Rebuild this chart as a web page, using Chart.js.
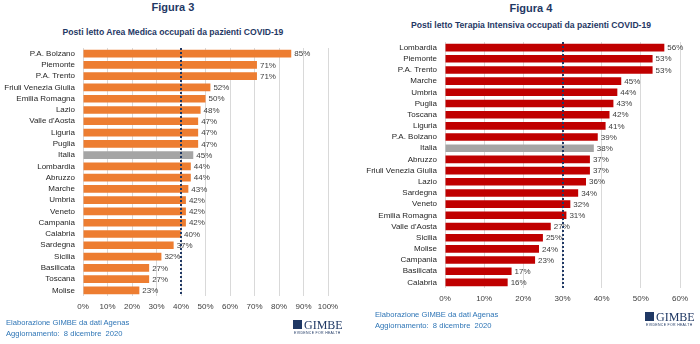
<!DOCTYPE html>
<html>
<head>
<meta charset="utf-8">
<script src="https://cdn.jsdelivr.net/npm/chart.js@4.4.0/dist/chart.umd.min.js"></script>
<style>
  body { margin: 0; background: #fff; font-family: "Liberation Sans", Arial, sans-serif; }
  #wrap { position: relative; width: 700px; height: 344px; overflow: hidden; }
  canvas { position: absolute; top: 0; }
  .fig { position: absolute; font-weight: bold; color: #1F3864; font-size: 11px; text-align: center; }
  .sub { position: absolute; font-weight: bold; color: #1F3864; font-size: 8.6px; text-align: center; white-space: nowrap; }
  .foot { position: absolute; color: #2E75B6; font-size: 7.6px; line-height: 11px; white-space: nowrap; }
  .logo { position: absolute; color: #1F3864; font-family: "Liberation Serif", serif; font-size: 12px; line-height: 12px; white-space: nowrap; }
  .logo .ico { display: inline-block; width: 9px; height: 9px; background: #1F3864; vertical-align: 0px; margin-right: 2px; }
  .logo .tag { display: block; font-family: "Liberation Sans", sans-serif; font-size: 3.5px; line-height: 4px; letter-spacing: 0.3px; margin-left: 1px; }
</style>
</head>
<body>
<div id="wrap">
  <div class="fig" style="left:0;width:346px;top:1px;">Figura 3</div>
  <div class="sub" style="left:0;width:346px;top:27px;">Posti letto Area Medica occupati da pazienti COVID-19</div>
  <div class="fig" style="left:356px;width:350px;top:2px;">Figura 4</div>
  <div class="sub" style="left:356px;width:350px;top:20px;">Posti letto Terapia Intensiva occupati da pazienti COVID-19</div>
  <canvas id="c1" width="350" height="344" style="left:0;"></canvas>
  <canvas id="c2" width="350" height="344" style="left:350px;"></canvas>
  <div class="foot" style="left:6px;top:317px;">Elaborazione GIMBE da dati Agenas<br>Aggiornamento:&nbsp; 8 dicembre&nbsp; 2020</div>
  <div class="foot" style="left:375px;top:309px;">Elaborazione GIMBE da dati Agenas<br>Aggiornamento:&nbsp; 8 dicembre&nbsp; 2020</div>
  <div class="logo" style="left:293px;top:319px;"><span class="ico"></span>GIMBE<span class="tag">EVIDENCE FOR HEALTH</span></div>
  <div class="logo" style="left:645px;top:311px;"><span class="ico"></span>GIMBE<span class="tag">EVIDENCE FOR HEALTH</span></div>
</div>
<script>
// Figura 3 - Area Medica
const regioniMedica = ['P.A. Bolzano', 'Piemonte', 'P.A. Trento', 'Friuli Venezia Giulia', 'Emilia Romagna', 'Lazio',
  "Valle d'Aosta", 'Liguria', 'Puglia', 'Italia', 'Lombardia', 'Abruzzo', 'Marche', 'Umbria', 'Veneto', 'Campania',
  'Calabria', 'Sardegna', 'Sicilia', 'Basilicata', 'Toscana', 'Molise'];
const valoriMedica = [85, 71, 71, 52, 50, 48, 47, 47, 47, 45, 44, 44, 43, 42, 42, 42, 40, 37, 32, 27, 27, 23];
const sogliaMedica = 40;
const maxMedica = 100;

// Figura 4 - Terapia Intensiva
const regioniIntensiva = ['Lombardia', 'Piemonte', 'P.A. Trento', 'Marche', 'Umbria', 'Puglia', 'Toscana', 'Liguria',
  'P.A. Bolzano', 'Italia', 'Abruzzo', 'Friuli Venezia Giulia', 'Lazio', 'Sardegna', 'Veneto', 'Emilia Romagna',
  "Valle d'Aosta", 'Sicilia', 'Molise', 'Campania', 'Basilicata', 'Calabria'];
const valoriIntensiva = [56, 53, 53, 45, 44, 43, 42, 41, 39, 38, 37, 37, 36, 34, 32, 31, 27, 25, 24, 23, 17, 16];
const sogliaIntensiva = 30;
const maxIntensiva = 60;

const font = { family: '"Liberation Sans", Arial, sans-serif', size: 8 };

// etichette con la percentuale a destra delle barre
const valueLabels = {
  id: 'valueLabels',
  afterDatasetsDraw(chart) {
    const ctx = chart.ctx;
    const meta = chart.getDatasetMeta(0);
    ctx.save();
    ctx.font = '8px "Liberation Sans", Arial, sans-serif';
    ctx.fillStyle = '#404040';
    ctx.textBaseline = 'middle';
    meta.data.forEach(function (bar, i) {
      ctx.fillText(chart.data.datasets[0].data[i] + '%', bar.x + 3, bar.y + 0.5);
    });
    ctx.restore();
  }
};

// linea tratteggiata della soglia
const thresholdLine = {
  id: 'thresholdLine',
  afterDatasetsDraw(chart, args, opts) {
    const ctx = chart.ctx;
    const x = Math.round(chart.scales.x.getPixelForValue(opts.value));
    ctx.save();
    ctx.strokeStyle = '#1F3864';
    ctx.lineWidth = 2;
    ctx.setLineDash([2, 2]);
    ctx.beginPath();
    ctx.moveTo(x, chart.chartArea.top);
    ctx.lineTo(x, chart.chartArea.bottom);
    ctx.stroke();
    ctx.restore();
  }
};

function makeChart(id, labels, values, color, soglia, max, yWidth, pad) {
  const colors = labels.map(function (l) { return l === 'Italia' ? '#A5A5A5' : color; });
  return new Chart(document.getElementById(id), {
    type: 'bar',
    data: {
      labels: labels,
      datasets: [{
        data: values,
        backgroundColor: colors,
        barPercentage: 0.68,
        categoryPercentage: 1
      }]
    },
    plugins: [valueLabels, thresholdLine],
    options: {
      indexAxis: 'y',
      responsive: false,
      animation: false,
      layout: { padding: pad },
      plugins: {
        legend: { display: false },
        tooltip: { enabled: false },
        thresholdLine: { value: soglia }
      },
      scales: {
        x: {
          min: 0, max: max,
          afterFit: function (s) { s.height = 20; },
          ticks: {
            stepSize: 10, font: font, color: '#404040', padding: 6,
            maxRotation: 0, minRotation: 0, autoSkip: false,
            callback: function (v) { return v + '%'; }
          },
          grid: { color: '#D9D9D9', drawTicks: false },
          border: { display: false }
        },
        y: {
          afterFit: function (s) { s.width = yWidth; },
          ticks: { font: font, color: '#262626', padding: 8, autoSkip: false },
          grid: { display: false, drawTicks: false },
          border: { display: false }
        }
      }
    }
  });
}

makeChart('c1', regioniMedica, valoriMedica, '#ED7D31', sogliaMedica, maxMedica, 83,
  { top: 48, right: 22, bottom: 28, left: 0 });
makeChart('c2', regioniIntensiva, valoriIntensiva, '#C00000', sogliaIntensiva, maxIntensiva, 95,
  { top: 42, right: 20, bottom: 36, left: 0 });
</script>
</body>
</html>
